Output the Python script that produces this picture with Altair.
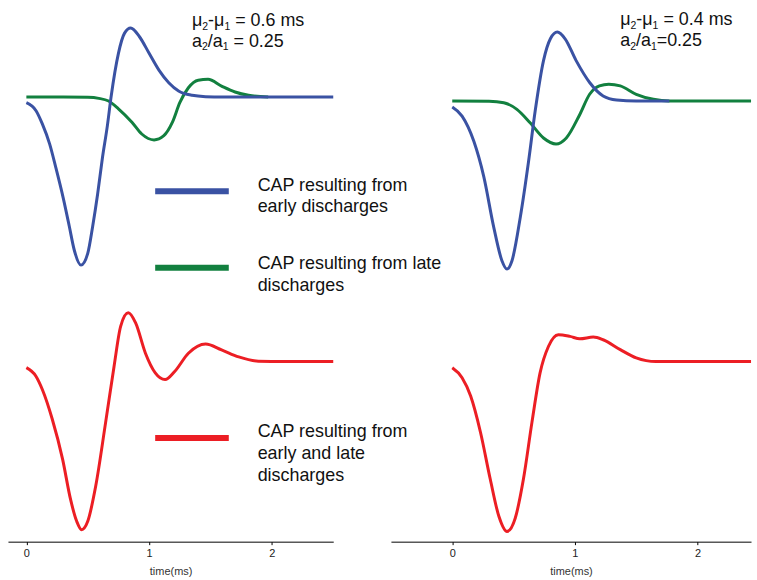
import altair as alt
import pandas as pd

# ---------------- data ----------------
# time axis ticks
x_ticks = [0, 1, 2]

# Left column (mu2-mu1 = 0.6 ms)
lb_t = [0, 0.08, 0.13, 0.19, 0.24, 0.30, 0.35, 0.39, 0.445, 0.50, 0.54, 0.58, 0.62, 0.66, 0.69,
        0.75, 0.80, 0.85, 0.92, 1.00, 1.08, 1.16, 1.24, 1.35, 1.46, 1.6, 2.0, 2.5]
lb_v = [-0.034, -0.083, -0.16, -0.28, -0.42, -0.60, -0.77, -0.91, -1.0, -0.93, -0.77, -0.58, -0.36,
        -0.17, 0.0, 0.26, 0.38, 0.41, 0.36, 0.26, 0.16, 0.085, 0.036, 0.01, 0.002, 0, 0, 0]

lg_t = [0, 0.3, 0.5, 0.59, 0.67, 0.75, 0.86, 0.94, 1.04, 1.12, 1.19, 1.25, 1.32, 1.40, 1.48,
        1.59, 1.70, 1.81, 1.97]
lg_v = [0, 0, -0.002, -0.008, -0.024, -0.07, -0.15, -0.22, -0.255, -0.23, -0.15, -0.034, 0.055,
        0.10, 0.105, 0.065, 0.03, 0.01, 0]

lr_t = [0, 0.078, 0.13, 0.21, 0.295, 0.36, 0.41, 0.45, 0.50, 0.565, 0.646, 0.714, 0.768, 0.83,
        0.89, 0.97, 1.05, 1.13, 1.21, 1.32, 1.46, 1.59, 1.73, 1.89, 2.1, 2.5]
lr_v = [-0.036, -0.087, -0.166, -0.34, -0.58, -0.82, -0.95, -1.0, -0.95, -0.74, -0.36, -0.03, 0.21,
        0.29, 0.23, 0.05, -0.067, -0.107, -0.057, 0.05, 0.105, 0.07, 0.028, 0.002, 0, 0]

# Right column (mu2-mu1 = 0.4 ms)
rb_t = [0, 0.08, 0.176, 0.257, 0.338, 0.405, 0.446, 0.487, 0.555, 0.622, 0.676, 0.744, 0.80,
        0.857, 0.92, 1.01, 1.12, 1.23, 1.34, 1.5, 1.77]
rb_v = [-0.036, -0.09, -0.24, -0.45, -0.75, -0.95, -1.0, -0.95, -0.69, -0.36, -0.06, 0.24, 0.37,
        0.41, 0.37, 0.24, 0.11, 0.03, 0.006, 0, 0]

rg_t = [0, 0.3, 0.42, 0.527, 0.635, 0.744, 0.846, 0.93, 1.04, 1.12, 1.20, 1.276, 1.37, 1.5,
        1.64, 1.77, 2.436]
rg_v = [0, -0.002, -0.01, -0.05, -0.13, -0.22, -0.256, -0.22, -0.08, 0.04, 0.09, 0.10, 0.09,
        0.04, 0.01, 0, 0]

rr_t = [0, 0.08, 0.15, 0.23, 0.31, 0.38, 0.446, 0.514, 0.58, 0.65, 0.716, 0.784, 0.865, 0.96,
        1.04, 1.15, 1.23, 1.37, 1.5, 1.66, 2.436]
rr_v = [-0.037, -0.096, -0.205, -0.42, -0.70, -0.92, -1.01, -0.93, -0.70, -0.36, -0.067, 0.09,
        0.16, 0.15, 0.136, 0.146, 0.13, 0.071, 0.022, 0, 0]

legend_blue = ["CAP resulting from", "early discharges"]
legend_green = ["CAP resulting from late", "discharges"]
legend_red = ["CAP resulting from", "early and late", "discharges"]
# annotation pieces: (text, is_subscript)
note_left_1 = [("μ", 0), ("2", 1), ("-μ", 0), ("1", 1), (" = 0.6 ms", 0)]
note_left_2 = [("a", 0), ("2", 1), ("/a", 0), ("1", 1), (" = 0.25", 0)]
note_right_1 = [("μ", 0), ("2", 1), ("-μ", 0), ("1", 1), (" = 0.4 ms", 0)]
note_right_2 = [("a", 0), ("2", 1), ("/a", 0), ("1", 1), ("=0.25", 0)]

# ---------------- styling ----------------
FONT = "Liberation Sans"
BLUE, GREEN, RED = "#3A52A3", "#12803F", "#EC1E24"
LW = 3
PX = 169.0  # pixels per amplitude unit

L_XDOM = [-0.15, 2.5]
R_XDOM = [-0.5, 2.436]
L_W, R_W = 327, 362
TOP_H = 300
AXIS_AT = 243          # axis line position inside the bottom panel
BOT_H = 277            # bottom panel incl. room for axis labels/title
AXIS_OFFSET = AXIS_AT - BOT_H

NOTE_SIZE, SUB_SIZE, SUB_DROP = 18, 10.5, 3.5
# Arial / Liberation Sans advance widths (per 1000 em)
ADV = {"μ": 576, "a": 556, "-": 333, "/": 278, " ": 278, "=": 584, ".": 278, "m": 833, "s": 500}


def adv(s, size):
    return sum(ADV.get(c, 556) for c in s) * size / 1000.0


def ydom(base_px, h):
    return [-(h - base_px) / PX, base_px / PX]


dummy = pd.DataFrame({"a": [0]})


def curve(t, v, color, xdom, yd, axis=None):
    return alt.Chart(pd.DataFrame({"t": t, "v": v})).mark_line(
        color=color, strokeWidth=LW, interpolate="monotone"
    ).encode(
        x=alt.X("t:Q", scale=alt.Scale(domain=xdom, nice=False, zero=False), axis=axis),
        y=alt.Y("v:Q", scale=alt.Scale(domain=yd, nice=False, zero=False), axis=None),
    )


def label(txt, x, y, size=18, baseline="middle"):
    return alt.Chart(dummy).mark_text(
        text=txt, font=FONT, fontSize=size, align="left", baseline=baseline, color="#111"
    ).encode(x=alt.value(x), y=alt.value(y))


def rich(pieces, x0, ybase):
    layers = []
    x = x0
    for txt, sub in pieces:
        size = SUB_SIZE if sub else NOTE_SIZE
        lead = len(txt) - len(txt.lstrip(" "))
        x += adv(" " * lead, size)
        body = txt.lstrip(" ")
        layers.append(label(body, x, ybase + (SUB_DROP if sub else 0), size, "alphabetic"))
        x += adv(body, size)
    return layers


def swatch(color, x1, x2, y):
    return alt.Chart(dummy).mark_rule(color=color, strokeWidth=6).encode(
        x=alt.value(x1), x2=alt.value(x2), y=alt.value(y)
    )


xaxis = alt.Axis(values=x_ticks, title="time(ms)", format="d", offset=AXIS_OFFSET)

# left top
lt_yd = ydom(96, TOP_H)
left_top = alt.layer(
    curve(lg_t, lg_v, GREEN, L_XDOM, lt_yd),
    curve(lb_t, lb_v, BLUE, L_XDOM, lt_yd),
    *rich(note_left_1, 185, 25),
    *rich(note_left_2, 185, 45.5),
    swatch(BLUE, 148, 222, 190.7),
    swatch(GREEN, 148, 222, 267.7),
    label(legend_blue[0], 251, 185),
    label(legend_blue[1], 251, 207),
    label(legend_green[0], 251, 264),
    label(legend_green[1], 251, 286),
).properties(width=L_W, height=TOP_H)

bot_yd = ydom(62, AXIS_AT)
bot_yd = [bot_yd[0] - (BOT_H - AXIS_AT) / PX, bot_yd[1]]
left_bot = alt.layer(
    curve(lr_t, lr_v, RED, L_XDOM, bot_yd, axis=xaxis),
    swatch(RED, 148, 222, 138.7),
    label(legend_red[0], 251, 133),
    label(legend_red[1], 251, 155),
    label(legend_red[2], 251, 177),
).properties(width=L_W, height=BOT_H)

rt_yd = ydom(100, TOP_H)
right_top = alt.layer(
    curve(rg_t, rg_v, GREEN, R_XDOM, rt_yd),
    curve(rb_t, rb_v, BLUE, R_XDOM, rt_yd),
    *rich(note_right_1, 230.5, 24),
    *rich(note_right_2, 230.5, 45),
).properties(width=R_W, height=TOP_H)

right_bot = curve(rr_t, rr_v, RED, R_XDOM, bot_yd, axis=xaxis).properties(width=R_W, height=BOT_H)

chart = alt.concat(
    left_top, right_top, left_bot, right_bot,
    columns=2,
    spacing={"row": 0, "column": 58},
    bounds="flush",
    align="each",
).properties(
    padding={"left": 8, "top": 0, "right": 0, "bottom": 0}
).configure_view(stroke=None).configure_axis(
    grid=False,
    domainColor="#000",
    domainWidth=1,
    tickColor="#000",
    tickSize=3,
    labelFont=FONT,
    labelFontSize=11,
    labelColor="#222",
    labelPadding=3,
    titleFont=FONT,
    titleFontSize=11,
    titleFontWeight="normal",
    titleColor="#333",
    titlePadding=7,
)

chart.save("out.html", embed_options={"renderer": "svg", "actions": False})
